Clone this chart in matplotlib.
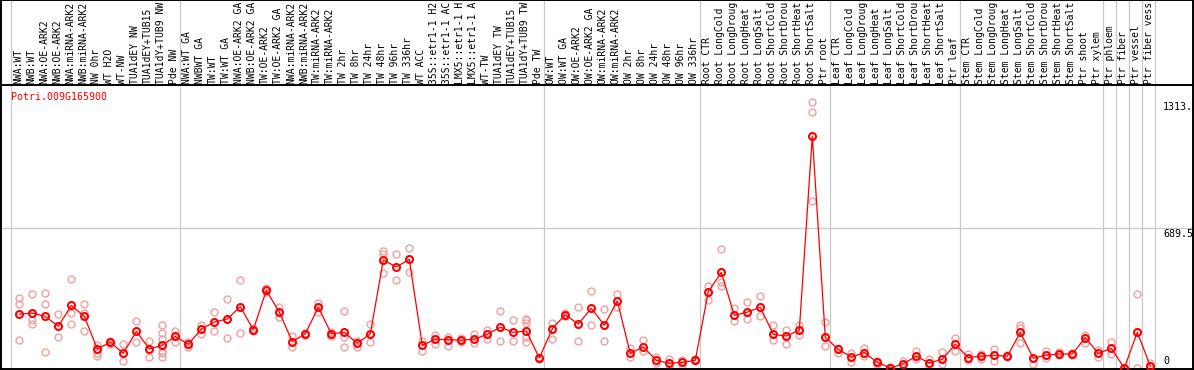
import matplotlib
matplotlib.use("Agg")
import matplotlib.pyplot as plt
from matplotlib.transforms import offset_copy

gene_id = "Potri.009G165900"

samples = [
    "NWA:WT", "NWB:WT", "NWA:OE-ARK2", "NWB:OE-ARK2", "NWA:miRNA-ARK2", "NWB:miRNA-ARK2",
    "NW 0hr", "WT H2O", "WT-NW", "TUA1dEY NW", "TUA1dEY+TUB15 NW", "TUA1dY+TUB9 NW", "Pde NW",
    "NWA:WT GA", "NWBWT GA", "TW:WT", "TW:WT GA", "NWA:OE-ARK2 GA", "NWB:OE-ARK2 GA",
    "TW:OE-ARK2", "TW:OE-ARK2 GA", "NWA:miRNA-ARK2 GA", "NWB:miRNA-ARK2 GA", "TW:miRNA-ARK2",
    "TW:miRNA-ARK2 GA", "TW 2hr", "TW 8hr", "TW 24hr", "TW 48hr", "TW 96hr", "TW 336hr",
    "WT ACC", "35S::etr1-1 H2O", "35S::etr1-1 ACC", "LMX5::etr1-1 H2O", "LMX5::etr1-1 ACC",
    "WT-TW", "TUA1dEY TW", "TUA1dEY+TUB15 TW", "TUA1dY+TUB9 TW", "Pde TW",
    "OW:WT", "OW:WT GA", "OW:OE-ARK2", "OW:OE-ARK2 GA", "OW:miRNA-ARK2", "OW:miRNA-ARK2 GA",
    "OW 2hr", "OW 8hr", "OW 24hr", "OW 48hr", "OW 96hr", "OW 336hr",
    "Root CTR", "Root LongCold", "Root LongDrought", "Root LongHeat", "Root LongSalt",
    "Root ShortCold", "Root ShortDrought", "Root ShortHeat", "Root ShortSalt", "Ptr root",
    "Leaf CTR", "Leaf LongCold", "Leaf LongDrought", "Leaf LongHeat", "Leaf LongSalt",
    "Leaf ShortCold", "Leaf ShortDrought", "Leaf ShortHeat", "Leaf ShortSalt", "Ptr leaf",
    "Stem CTR", "Stem LongCold", "Stem LongDrought", "Stem LongHeat", "Stem LongSalt",
    "Stem ShortCold", "Stem ShortDrought", "Stem ShortHeat", "Stem ShortSalt", "Ptr shoot",
    "Ptr xylem", "Ptr phloem", "Ptr fiber", "Ptr vessel", "Ptr fiber vessel",
]

means = [
    266, 271, 255, 206, 309, 255, 94, 127, 72, 181, 94, 112, 156,
    117, 192, 227, 242, 303, 189, 383, 276, 130, 169, 300, 169, 176, 122, 168,
    533, 499, 536, 112, 142, 140, 137, 143, 166, 201, 176, 183, 49,
    194, 263, 217, 295, 211, 331, 72, 104, 38, 23, 28, 38,
    377, 472, 260, 276, 300, 166, 158, 186, 1145, 151,
    92, 54, 76, 28, 0, 21, 58, 25, 43, 117,
    51, 59, 62, 58, 176, 48, 64, 69, 69, 150, 72,
    97, 0, 176, 10,
]

replicates = [
    [344, 316, 138], [365, 237, 216], [370, 314, 77], [265, 151], [438, 271, 216],
    [316, 273, 183], [112, 76, 61], [135, 120], [117, 33], [232, 128], [132, 54],
    [211, 174, 141, 85, 72, 54], [183, 128],
    [128, 105], [214, 168], [275, 183], [341, 148], [433, 171], [197, 182], [396, 375],
    [303, 250], [158, 105], [175, 163], [319, 278], [178, 160], [281, 151, 104],
    [135, 104], [217, 130], [576, 561, 467], [561, 433], [591, 475], [135, 85],
    [164, 117], [155, 109], [150, 128], [169, 122], [188, 143], [281, 133], [237, 133],
    [243, 237, 221, 155, 130], [52, 46],
    [224, 142], [270, 255], [300, 133], [380, 211], [291, 135], [365, 300], [100, 53],
    [138, 84], [53, 23], [43, 2], [40, 15], [42, 34],
    [405, 336], [586, 426, 406], [295, 234], [326, 240], [355, 258], [211, 138],
    [188, 117], [212, 163], [1313, 1262, 826], [226, 110],
    [72, 100], [72, 31], [97, 59], [35, 20], [5, 0], [35], [85, 43], [43, 10], [77, 18],
    [147, 84],
    [67, 39], [69, 43], [92, 36], [62, 54], [212, 122, 195], [20], [85, 48], [78, 62],
    [74, 65], [163, 122], [89, 56],
    [127, 69], [0, 0], [365, 0], [26],
]

group_starts = [0, 13, 41, 53, 63, 73, 84, 85, 86, 87, 88]
ytick_values = [1313, 689.5, 0]
ytick_labels = ["1313.", "689.5", "0"]
gridline_value = 689.5
label_chars = 14  # header shows the first 14 characters of each sample name

RED = "#ff0000"
PINK = "#f0a0a0"
GRID = "#c8c8c8"
FONT = "DejaVu Sans Mono"
FS = 7.2
FS_LAB = 7.0

W, H = 1194, 370
fig = plt.figure(figsize=(W / 100, H / 100), dpi=100)

# main data axes: x from px 1 to 1193, y from px 85 to 369
ax = fig.add_axes([1 / W, 1 / H, 1192 / W, 284 / H])
# header axes: y from px 0 to 85
axh = fig.add_axes([1 / W, (H - 85) / H, 1192 / W, 85 / H], sharex=ax)

xlo = (1 - 19.3) / 13
xhi = (1193 - 19.3) / 13
ax.set_xlim(xlo, xhi)
ax.set_ylim(-1 / 0.2026, 283 / 0.2026)
axh.set_ylim(0, 1)

for a in (ax, axh):
    a.set_xticks([])
    a.set_yticks([])
    for s in a.spines.values():
        s.set_color("black")
        s.set_linewidth(1.4)
    for g in group_starts:
        a.axvline(g - 0.62, color=GRID, lw=0.9, zorder=0)

ax.axhline(gridline_value, color=GRID, lw=0.9, zorder=0)

xs = list(range(len(samples)))

# replicate points
for i, reps in enumerate(replicates):
    ax.plot([i] * len(reps), reps, linestyle="none", marker="o", ms=5.0,
            mfc="none", mec=PINK, mew=1.0, zorder=2)

# mean line and markers
ax.plot(xs, means, color=RED, lw=0.9, zorder=3)
ax.plot(xs, means, linestyle="none", marker="o", ms=5.0, mfc="none",
        mec=RED, mew=1.5, zorder=4)

# header labels
for i, name in enumerate(samples):
    axh.text(i - 0.1, 1.5 / 85, name[:label_chars].rstrip(), rotation=90,
             ha="center", va="bottom", fontsize=FS_LAB, family=FONT,
             color="black", clip_on=False)

# gene id
ax.text(10 / 1192, 1 - 11.7 / 284, gene_id, transform=ax.transAxes,
        ha="left", va="center", fontsize=FS, family=FONT, color=RED)

# y tick labels inside plot on the right
tx = (1163 - 19.3) / 13
for v, lab in zip(ytick_values, ytick_labels):
    if v == 0:
        tr = offset_copy(ax.transData, fig=fig, x=0, y=2, units="dots")
        ax.text(tx, v, lab, transform=tr, ha="left", va="bottom",
                fontsize=FS, family=FONT, color="black")
    else:
        tr = offset_copy(ax.transData, fig=fig, x=0, y=-0.5, units="dots")
        ax.text(tx, v, lab, transform=tr, ha="left", va="top",
                fontsize=FS, family=FONT, color="black")

fig.savefig("out.png", dpi=100)
